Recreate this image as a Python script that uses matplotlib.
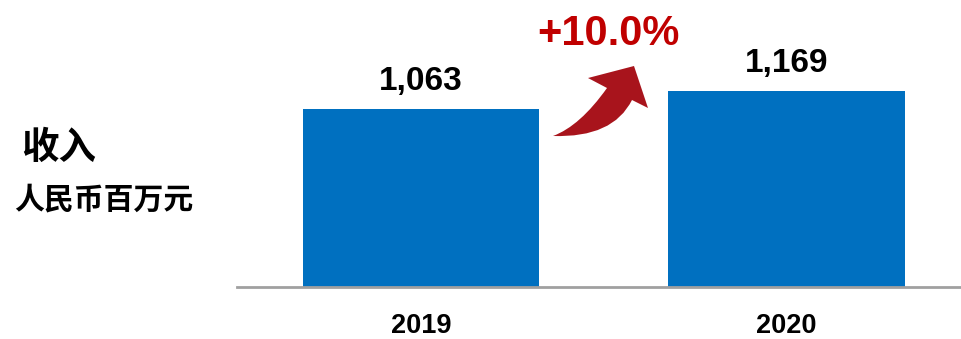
import matplotlib.pyplot as plt
from matplotlib.patches import PathPatch
from matplotlib.path import Path

years = ['2019', '2020']
revenue = [1063, 1169]

bar_color = '#0070C0'
red = '#C00000'
arrow_red = '#A8141C'

plt.rcParams['font.family'] = ['Liberation Sans', 'DejaVu Sans']

W, H = 962, 339
fig = plt.figure(figsize=(W / 100, H / 100), dpi=100)
ax = fig.add_axes([237 / W, 52 / H, 725 / W, 287 / H])

x = range(len(years))
ax.bar(x, revenue, width=0.646, color=bar_color)
ax.set_xlim(-0.503, 1.48)
ax.set_ylim(0, 1714)

for xi, v in zip(x, revenue):
    ax.annotate(f'{v:,}', (xi, v), xytext=(0, 14), textcoords='offset points',
                ha='center', va='baseline', fontsize=24, fontweight='bold',
                color='black')

for s in ['top', 'right', 'left']:
    ax.spines[s].set_visible(False)
ax.spines['bottom'].set_color('#A0A0A0')
ax.spines['bottom'].set_linewidth(2)
ax.set_yticks([])
ax.set_xticks(list(x))
ax.set_xticklabels(years, fontsize=19.5, fontweight='bold')
ax.tick_params(axis='x', length=0, pad=19)

# growth label
growth = (revenue[1] - revenue[0]) / revenue[0] * 100
fig.text(608 / W, 1 - 45 / H, f'+{growth:.1f}%', ha='center', va='baseline',
         fontsize=30, fontweight='bold', color=red)

# curved arrow between the bars, outline given in pixels from the top-left
outline = [
    ((553, 136), Path.MOVETO),
    ((613, 138), Path.CURVE3),
    ((632, 100), Path.CURVE3),
    ((648, 108), Path.LINETO),
    ((634, 66), Path.LINETO),
    ((588, 78), Path.LINETO),
    ((607, 88), Path.LINETO),
    ((580, 126), Path.CURVE3),
    ((553, 136), Path.CURVE3),
    ((553, 136), Path.CLOSEPOLY),
]
verts = [(px, H - py) for (px, py), _ in outline]
codes = [c for _, c in outline]
fig.patches.append(PathPatch(Path(verts, codes), transform=None,
                             facecolor=arrow_red, edgecolor='none'))

cjk = ['Noto Sans CJK SC', 'DejaVu Sans']
fig.text(21 / W, 1 - 147 / H, '收入', ha='left', va='center',
         fontsize=27, fontweight='bold', family=cjk)
fig.text(14 / W, 1 - 199 / H, '人民币百万元', ha='left', va='center',
         fontsize=21.5, fontweight='bold', family=cjk)

fig.savefig('out.png', dpi=100)
